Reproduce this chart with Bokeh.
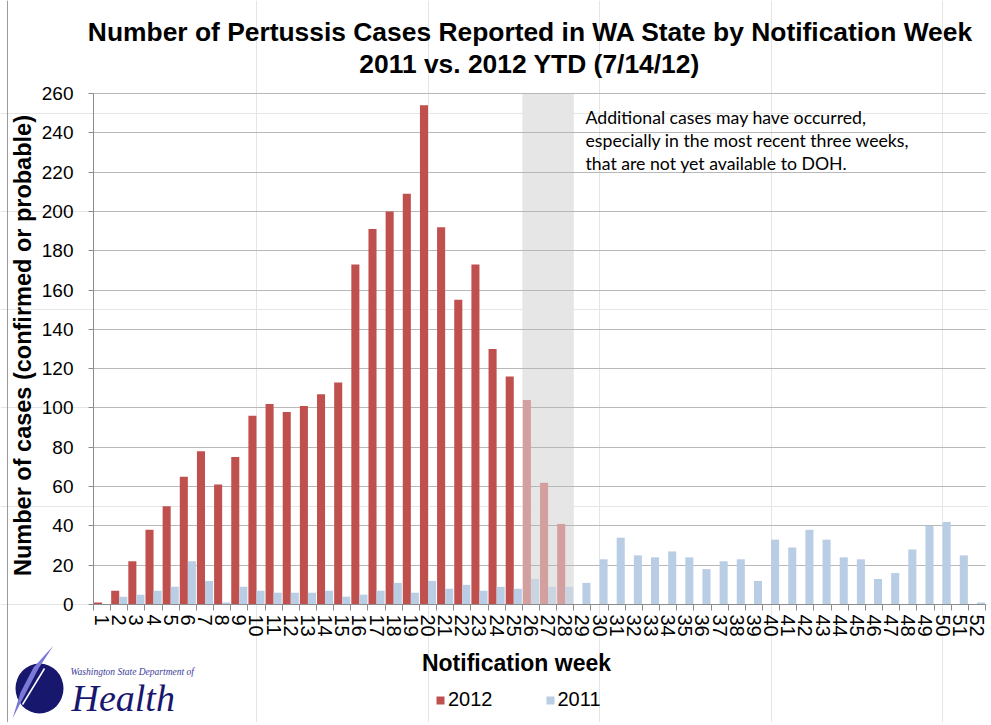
import math
from bokeh.plotting import figure
from bokeh.models import (Range1d, FixedTicker, BoxAnnotation, Label, Legend,
                          LegendItem, ColumnDataSource, LinearAxis, Grid, Span)
from bokeh.transform import dodge
from bokeh.embed import file_html
from bokeh.resources import INLINE

# ---------------- data ----------------
weeks = list(range(1, 53))
week_labels = [str(w) for w in weeks]
cases_2012 = [1, 7, 22, 38, 50, 65, 78, 61, 75, 96, 102, 98, 101, 107, 113,
              173, 191, 200, 209, 254, 192, 155, 173, 130, 116, 104, 62, 41]
cases_2011 = [0, 4, 5, 7, 9, 22, 12, 1, 9, 7, 6, 6, 6, 7, 4, 5, 7, 11, 6, 12,
              8, 10, 7, 9, 8, 13, 9, 9, 11, 23, 34, 25, 24, 27, 24, 18, 22, 23,
              12, 33, 29, 38, 33, 24, 23, 13, 16, 28, 40, 42, 25, 1]
incomplete_weeks = [26, 27, 28]
y_ticks = list(range(0, 261, 20))

title_line1 = "Number of Pertussis Cases Reported in WA State by Notification Week"
title_line2 = "2011 vs. 2012 YTD (7/14/12)"
y_title = "Number of cases (confirmed or probable)"
x_title = "Notification week"
note_lines = ["Additional cases may have occurred,",
              "especially in the most recent three weeks,",
              "that are not yet available to DOH."]

# ---------------- styling / layout ----------------
RED, RED_FADED = "#C0504D", "#D4A09F"
BLUE, BLUE_FADED = "#B9CDE5", "#CBD4E1"
GRID = "#B8B8B8"
AXIS = "#8C8C8C"
FONT = "Liberation Sans"

W, H = 988, 722                       # canvas
PL, PR, PT, PB = 93, 985, 93, 604     # plot area inside the canvas (px)

x_lo, x_hi = weeks[0] - 0.5, weeks[-1] + 0.5
y_lo, y_hi = y_ticks[0], y_ticks[-1]
kx = (PR - PL) / (x_hi - x_lo)
ky = (PB - PT) / (y_hi - y_lo)
x_range = Range1d(x_lo - PL / kx, x_hi + (W - PR) / kx)
y_range = Range1d(y_lo - (H - PB) / ky, y_hi + PT / ky)

weeks_2012 = weeks[:len(cases_2012)]
src12 = ColumnDataSource(dict(
    week=weeks_2012, cases=cases_2012,
    color=[RED_FADED if w in incomplete_weeks else RED for w in weeks_2012]))
src11 = ColumnDataSource(dict(
    week=weeks, cases=cases_2011,
    color=[BLUE_FADED if w in incomplete_weeks else BLUE for w in weeks]))

p = figure(width=W, height=H, x_range=x_range, y_range=y_range,
           output_backend="svg", toolbar_location=None, min_border=0,
           x_axis_location=None, y_axis_location=None)
p.title.visible = False
p.outline_line_color = None
p.background_fill_color = "white"
p.border_fill_color = "white"
p.extra_x_ranges = {"px": Range1d(0, W)}
p.extra_y_ranges = {"px": Range1d(H, 0)}

# grid lines (only across the plot area)
grid = Grid(dimension=1, ticker=FixedTicker(ticks=y_ticks), grid_line_color=GRID)
if "cross_bounds" in Grid.properties():
    grid.cross_bounds = (x_lo, x_hi)
    p.add_layout(grid)
else:
    p.segment(x0=[x_lo] * len(y_ticks), x1=[x_hi] * len(y_ticks),
              y0=y_ticks, y1=y_ticks, line_color=GRID, line_width=1, level="underlay")

# shaded "incomplete" area
shade = BoxAnnotation(left=min(incomplete_weeks) - 0.5,
                      right=max(incomplete_weeks) + 0.5,
                      bottom=y_lo, top=y_hi,
                      fill_color="#E6E6E6", fill_alpha=1.0,
                      line_color=None, level="image")
p.add_layout(shade)

r12 = p.vbar(x=dodge("week", -0.235, range=p.x_range), top="cases", width=0.47,
             source=src12, fill_color="color", line_color=None)
r11 = p.vbar(x=dodge("week", 0.235, range=p.x_range), top="cases", width=0.47,
             source=src11, fill_color="color", line_color=None)

# x axis, fixed at y = 0
xa = LinearAxis(fixed_location=y_lo, bounds=(x_lo, x_hi),
                ticker=FixedTicker(ticks=weeks,
                                   minor_ticks=[w - 0.5 for w in weeks] + [x_hi]))
xa.major_label_overrides = {w: l for w, l in zip(weeks, week_labels)}
xa.major_tick_out = 0
xa.major_tick_in = 0
xa.minor_tick_out = 6
xa.minor_tick_in = 0
xa.minor_tick_line_color = AXIS
xa.axis_line_color = AXIS
xa.major_label_orientation = "vertical"
xa.major_label_text_font = FONT
xa.major_label_text_font_size = "20px"
xa.major_label_text_color = "black"
xa.major_label_standoff = 4
p.add_layout(xa, "below")

# y axis, fixed at the left edge of the first week
ya = LinearAxis(fixed_location=x_lo, bounds=(y_lo, y_hi),
                ticker=FixedTicker(ticks=y_ticks))
ya.major_tick_out = 5
ya.major_tick_in = 0
ya.minor_tick_line_color = None
ya.major_tick_line_color = AXIS
ya.axis_line_color = AXIS
ya.major_label_text_font = FONT
ya.major_label_text_font_size = "19px"
ya.major_label_text_color = "black"
ya.major_label_standoff = 15
p.add_layout(ya, "left")


def label(text, x, baseline_from_top, size, bold=False, align="left",
          font=FONT, color="black", style=None):
    """Horizontal text whose baseline sits baseline_from_top px below the top."""
    fs = style if style else ("bold" if bold else "normal")
    y = H - (baseline_from_top - 0.4 * size)   # compensate baseline offset
    p.add_layout(Label(text=text, x=x, y=y, x_units="screen", y_units="screen",
                       text_font=font, text_font_size=f"{size}px",
                       text_font_style=fs, text_align=align,
                       text_baseline="alphabetic", text_color=color))


# titles and axis titles
label(title_line1, 530, 42, 26.4, bold=True, align="center")
label(title_line2, 529, 74, 26.4, bold=True, align="center")
label(x_title, 516, 672, 23, bold=True, align="center")
p.add_layout(Label(text=y_title, x=32 - 0.4 * 23.5, y=H - 345, x_units="screen",
                   y_units="screen", text_font=FONT, text_font_size="23.5px",
                   text_font_style="bold", text_align="center",
                   text_baseline="alphabetic", text_color="black",
                   angle=math.pi / 2))

# note in the plot area
for i, line in enumerate(note_lines):
    label(line, 585, 124 + 23 * i, 17.7, font="Lato")

# legend at the bottom
legend = Legend(items=[LegendItem(label="2012", renderers=[r12]),
                       LegendItem(label="2011", renderers=[r11])],
                orientation="horizontal", location=(435, 11),
                glyph_width=10, glyph_height=10, label_standoff=3, spacing=52,
                padding=0, margin=0, border_line_color=None,
                background_fill_alpha=0.0,
                label_text_font=FONT, label_text_font_size="20px",
                label_text_color="black")
p.add_layout(legend, "center")

# chart border at the far left
p.add_layout(Span(location=7, dimension="height", x_range_name="px",
                  line_color="#9A9A9A", line_width=1))

# ---------------- logo (decorative) ----------------
p.ellipse(x=[39], y=[688], width=[48], height=[50], width_units="screen",
          height_units="screen", fill_color="#17176E", line_color=None,
          x_range_name="px", y_range_name="px")
p.patch(x=[12, 20, 33, 53, 38, 25], y=[718, 692, 667, 645, 668, 693],
        fill_color="#7A7AD6", line_color=None, x_range_name="px", y_range_name="px")
p.line(x=[22, 44], y=[704, 668], line_color="white", line_width=1.5,
       x_range_name="px", y_range_name="px")
label("Washington State Department of", 70, 675, 9.5, font="Liberation Serif",
      color="#3A3A9A", style="italic")
label("Health", 71, 713, 38, font="Liberation Serif", color="#17176E",
      style="italic")

open("out.html", "w").write(file_html(p, INLINE))
